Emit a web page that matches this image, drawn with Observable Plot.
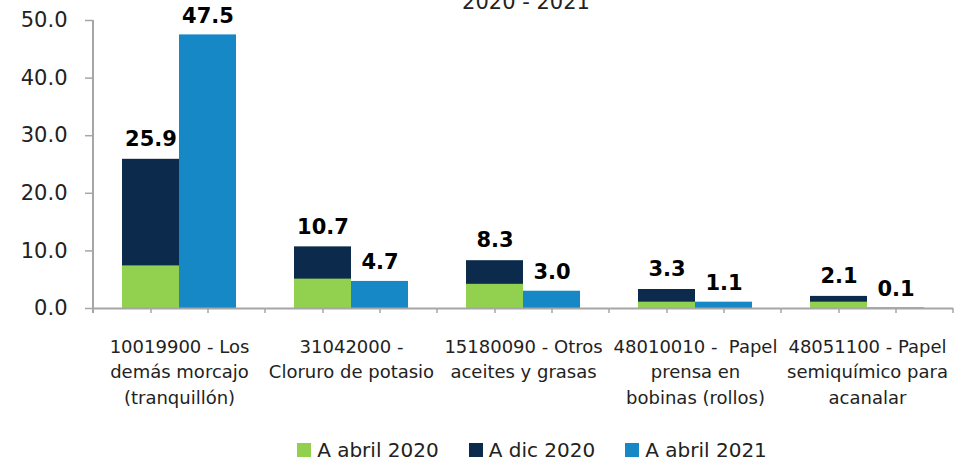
<!DOCTYPE html>
<html><head><meta charset="utf-8">
<script src="https://cdn.jsdelivr.net/npm/d3@7"></script>
<script src="https://cdn.jsdelivr.net/npm/@observablehq/plot@0.6"></script>
<style>
body{margin:0;background:#fff;font-family:"DejaVu Sans",sans-serif;color:#222}
#wrap{position:relative;width:955px;height:463px;overflow:hidden}
#title{position:absolute;top:-10px;left:0;width:1052px;text-align:center;font-size:21px;color:#222}
#legend{position:absolute;top:438px;left:0;width:1064px;display:flex;justify-content:center;gap:30px;font-size:20px;color:#222}
#legend .it{display:flex;align-items:center;gap:6px}
#legend .sw{width:14px;height:14px;display:inline-block}
svg text{font-family:"DejaVu Sans",sans-serif}
</style></head><body><div id="wrap"><div id="title"></div><div id="chart"></div><div id="legend"></div></div>
<script>
const categories = ["10019900","31042000","15180090","48010010","48051100"];
const categoryLabels = [
  "10019900 - Los\ndemás morcajo\n(tranquillón)",
  "31042000 -\nCloruro de potasio",
  "15180090 - Otros\naceites y grasas",
  "48010010 -  Papel\nprensa en\nbobinas (rollos)",
  "48051100 - Papel\nsemiquímico para\nacanalar"
];
const abril2020 = [7.4, 5.1, 4.2, 1.1, 1.1];
const dic2020 = [25.9, 10.7, 8.3, 3.3, 2.1];
const abril2021 = [47.5, 4.7, 3.0, 1.1, 0.1];
const seriesNames = ["A abril 2020", "A dic 2020", "A abril 2021"];
const seriesColors = ["#92d050", "#0c2a4b", "#1688c5"];
const yTicks = [0, 10, 20, 30, 40, 50];
const titleText = "2020 - 2021";

const labelOf = new Map(categories.map((c, i) => [c, categoryLabels[i]]));
const navy = categories.map((c, i) => ({cat: c, slot: "a", value: dic2020[i]}));
const green = categories.map((c, i) => ({cat: c, slot: "a", value: abril2020[i]}));
const blue = categories.map((c, i) => ({cat: c, slot: "b", value: abril2021[i]}));
const gray = "#a6a6a6";

const plot = Plot.plot({
  width: 955, height: 430,
  marginTop: 20, marginBottom: 122, marginLeft: 92, marginRight: 1,
  fx: {domain: categories, padding: 0, label: null},
  x: {domain: ["a", "b"], paddingInner: 0, paddingOuter: 0.5, label: null},
  y: {domain: [0, 50], label: null},
  marks: [
    Plot.barY(navy, {fx: "cat", x: "slot", y: "value", fill: seriesColors[1], inset: 0}),
    Plot.barY(green, {fx: "cat", x: "slot", y: "value", fill: seriesColors[0], inset: 0}),
    Plot.barY(blue, {fx: "cat", x: "slot", y: "value", fill: seriesColors[2], inset: 0}),
    Plot.ruleY([0], {stroke: gray, strokeWidth: 2}),
    Plot.axisX({ticks: ["a", "b"], tickFormat: () => "", tickSize: 5, stroke: gray, strokeWidth: 1.5}),
    Plot.axisY({ticks: yTicks, tickFormat: d => d.toFixed(1), tickSize: 8, tickPadding: 18, fontSize: 21, stroke: gray, strokeWidth: 1.5, fill: "#222", letterSpacing: 1}),
    Plot.axisFx({anchor: "bottom", tickSize: 0, tickPadding: 26, fontSize: 18, lineHeight: 1.42, letterSpacing: 0.4, tickFormat: d => labelOf.get(d), fill: "#222", textAnchor: "middle"}),
    Plot.text(navy, {fx: "cat", x: "slot", y: "value", text: d => d.value.toFixed(1), dy: -20, fontSize: 21, fontWeight: "bold", fill: "#000"}),
    Plot.text(blue, {fx: "cat", x: "slot", y: "value", text: d => d.value.toFixed(1), dy: -19, fontSize: 21, fontWeight: "bold", fill: "#000"})
  ]
});
document.getElementById("chart").appendChild(plot);

// y-axis line and category boundary ticks from the library's scales
const fx = plot.scale("fx"), y = plot.scale("y");
const svg = d3.select(plot);
const bounds = categories.map(c => fx.apply(c)).concat([fx.apply(categories[categories.length - 1]) + fx.bandwidth]);
svg.append("g").attr("stroke", gray).attr("stroke-width", 1.5)
  .selectAll("line").data(bounds).join("line")
  .attr("x1", d => d).attr("x2", d => d)
  .attr("y1", y.apply(0)).attr("y2", y.apply(0) + 5);
svg.append("line").attr("stroke", gray).attr("stroke-width", 2)
  .attr("x1", bounds[0]).attr("x2", bounds[0])
  .attr("y1", y.apply(50)).attr("y2", y.apply(0) + 5);

document.getElementById("title").textContent = titleText;
const lg = d3.select("#legend");
seriesNames.forEach((n, i) => {
  const it = lg.append("div").attr("class", "it");
  it.append("span").attr("class", "sw").style("background", seriesColors[i]);
  it.append("span").text(n);
});
</script></body></html>
